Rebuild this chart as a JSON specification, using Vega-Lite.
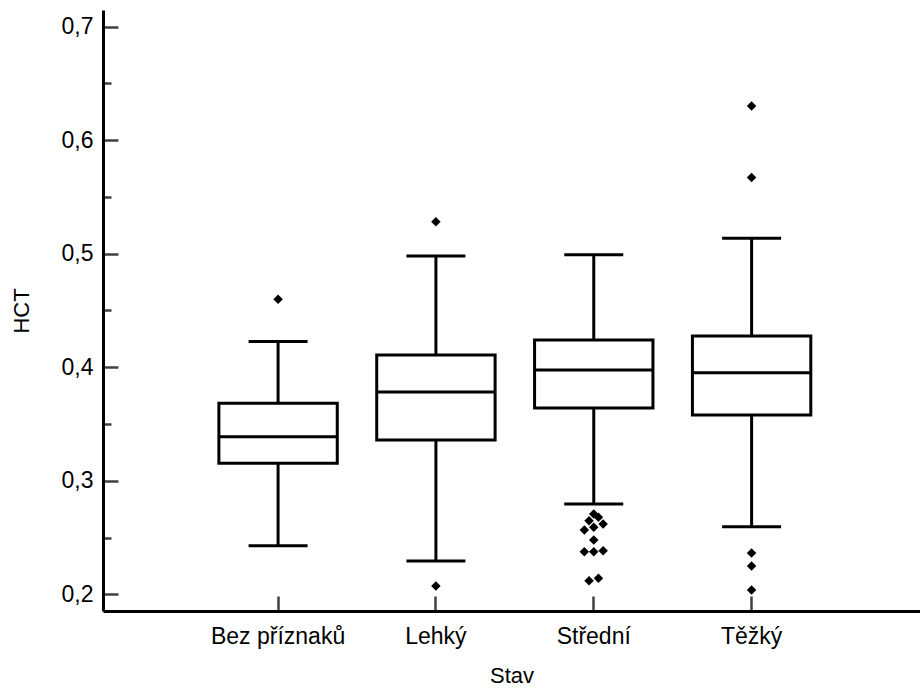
{
  "$schema": "https://vega.github.io/schema/vega-lite/v6.json",
  "width": 817,
  "height": 601,
  "autosize": {"type": "none"},
  "padding": {"left": 103, "top": 10, "right": 0, "bottom": 78},
  "background": "white",
  "config": {
    "view": {"stroke": null},
    "font": "Arial",
    "axis": {"labelFont": "Arial", "titleFont": "Arial", "labelFontSize": 23, "titleFontSize": 22, "titleFontWeight": "normal", "labelColor": "black", "titleColor": "black", "domainColor": "black", "domainWidth": 3, "tickColor": "#404040", "tickWidth": 2.5, "grid": false}
  },
  "datasets": {
    "boxes": [
      {"Stav": "Bez příznaků", "low": 0.2428, "q1": 0.3154, "med": 0.3389, "q3": 0.3683, "high": 0.4226},
      {"Stav": "Lehký", "low": 0.2293, "q1": 0.3360, "med": 0.3783, "q3": 0.4109, "high": 0.4981},
      {"Stav": "Střední", "low": 0.2796, "q1": 0.3641, "med": 0.3975, "q3": 0.4241, "high": 0.4990},
      {"Stav": "Těžký", "low": 0.2596, "q1": 0.3580, "med": 0.3952, "q3": 0.4276, "high": 0.5137}
    ],
    "outliers": [
      {"Stav": "Bez příznaků", "HCT": 0.4599, "tie": 0},
      {"Stav": "Lehký", "HCT": 0.5281, "tie": 0},
      {"Stav": "Lehký", "HCT": 0.2073, "tie": 0},
      {"Stav": "Střední", "HCT": 0.2707, "tie": 0},
      {"Stav": "Střední", "HCT": 0.2678, "tie": 1},
      {"Stav": "Střední", "HCT": 0.2648, "tie": -1},
      {"Stav": "Střední", "HCT": 0.2619, "tie": 2},
      {"Stav": "Střední", "HCT": 0.2590, "tie": 0},
      {"Stav": "Střední", "HCT": 0.2567, "tie": -2},
      {"Stav": "Střední", "HCT": 0.2478, "tie": 0},
      {"Stav": "Střední", "HCT": 0.2375, "tie": -2},
      {"Stav": "Střední", "HCT": 0.2375, "tie": 0},
      {"Stav": "Střední", "HCT": 0.2384, "tie": 2},
      {"Stav": "Střední", "HCT": 0.2120, "tie": -1},
      {"Stav": "Střední", "HCT": 0.2141, "tie": 1},
      {"Stav": "Těžký", "HCT": 0.6302, "tie": 0},
      {"Stav": "Těžký", "HCT": 0.5671, "tie": 0},
      {"Stav": "Těžký", "HCT": 0.2364, "tie": 0},
      {"Stav": "Těžký", "HCT": 0.2250, "tie": 0},
      {"Stav": "Těžký", "HCT": 0.2038, "tie": 0}
    ]
  },
  "resolve": {"scale": {"x": "independent", "xOffset": "independent"}},
  "layer": [
    {
      "encoding": {
        "x": {
          "field": "Stav", "type": "nominal", "sort": null,
          "scale": {"type": "band", "domain": ["Bez příznaků", "Lehký", "Střední", "Těžký"], "paddingInner": 0, "paddingOuter": 0.588, "align": 0.518},
          "axis": {"labelAngle": 0, "labelFont": "Arial", "titleFont": "Arial", "labelFontSize": 23, "titleFontSize": 22, "titleFontWeight": "normal", "tickSize": -15, "labelPadding": 29, "titlePadding": 17, "title": "Stav"}
        }
      },
      "layer": [
        {
          "data": {"name": "boxes"},
          "mark": {"type": "rule", "color": "black", "strokeWidth": 3},
          "encoding": {
            "y": {"field": "low", "type": "quantitative", "title": "HCT",
              "scale": {"domain": [0.1853, 0.7147], "nice": false, "zero": false},
              "axis": {
                "values": [0.2, 0.25, 0.3, 0.35, 0.4, 0.45, 0.5, 0.55, 0.6, 0.65, 0.7],
                "labelExpr": "abs(datum.value*10 - round(datum.value*10)) < 0.001 ? replace(format(datum.value, '.1f'), '.', ',') : ''",
                "tickSize": {"condition": {"test": "abs(datum.value*10 - round(datum.value*10)) < 0.001", "value": -15}, "value": -8},
                "labelFont": "Arial", "titleFont": "Arial", "labelFontSize": 23, "titleFontSize": 22, "titleFontWeight": "normal",
                "labelPadding": 25,
                "titlePadding": 28
              }
            },
            "y2": {"field": "high"}
          }
        },
        {
          "data": {"name": "boxes"},
          "mark": {"type": "bar", "fill": "white", "stroke": "black", "strokeWidth": 3, "width": {"band": 0.75}},
          "encoding": {"y": {"field": "q1", "type": "quantitative"}, "y2": {"field": "q3"}}
        },
        {
          "data": {"name": "boxes"},
          "mark": {"type": "tick", "color": "black", "opacity": 1, "thickness": 3, "size": 118},
          "encoding": {"y": {"field": "med", "type": "quantitative"}}
        },
        {
          "data": {"name": "boxes"},
          "mark": {"type": "tick", "color": "black", "opacity": 1, "thickness": 3, "size": 59},
          "encoding": {"y": {"field": "low", "type": "quantitative"}}
        },
        {
          "data": {"name": "boxes"},
          "mark": {"type": "tick", "color": "black", "opacity": 1, "thickness": 3, "size": 59},
          "encoding": {"y": {"field": "high", "type": "quantitative"}}
        }
      ]
    },
    {
      "data": {"name": "outliers"},
      "mark": {"type": "point", "shape": "diamond", "filled": true, "color": "black", "opacity": 1, "size": 90},
      "encoding": {
        "x": {
          "field": "Stav", "type": "nominal", "sort": null,
          "scale": {"type": "band", "domain": ["Bez příznaků", "Lehký", "Střední", "Těžký"], "paddingInner": 0, "paddingOuter": 0.588, "align": 0.518},
          "axis": null
        },
        "y": {"field": "HCT", "type": "quantitative"},
        "xOffset": {"field": "tie", "type": "quantitative", "scale": {"domain": [-2, 2], "range": [69.5, 88.3]}}
      }
    }
  ]
}
